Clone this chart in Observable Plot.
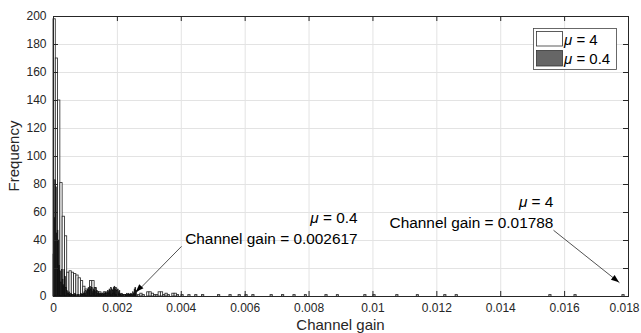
<!DOCTYPE html>
<html><head><meta charset="utf-8">
<script src="https://cdn.jsdelivr.net/npm/d3@7"></script>
<script src="https://cdn.jsdelivr.net/npm/@observablehq/plot@0.6"></script>
<style>body{margin:0;background:#fff}#chart{width:641px;height:333px}</style>
</head><body><div id="chart"></div>
<script>
// ---- data ----
const mu4MaxGain = 0.01788;
const mu4BinCount = 250;
const mu4Counts = [
  198,170,140,81,57,43,17,18,17,16,
  15,13,11,7,5,4,11,11,6,3,
  3,2,3,2,2,1,2,1,1,0,
  0,1,0,1,0,1,0,1,2,1,
  0,3,3,2,1,1,3,3,1,2,
  1,0,2,2,1,0,1,0,0,1
];
const mu4SparseBins = [62,65,72,77,81,84,87,95,100,105,110,119,124,136,140,150,159,171,176,217,228,249];
const mu04MaxGain = 0.002617;
const mu04BinCount = 100;
const mu04Counts = [
  30,56,83,78,45,47,40,22,18,10,
  19,12,8,19,14,6,4,3,2,3,
  1,2,1,1,0,1,2,1,0,1,
  1,0,1,2,1,1,2,3,2,4,
  3,5,6,4,7,5,6,3,5,4,
  6,3,4,2,3,2,1,2,1,2,
  1,2,3,2,3,4,3,5,4,6,
  5,4,6,7,5,6,4,5,3,4,
  2,1,2,1,1,0,1,1,2,1,
  2,1,1,2,1,3,2,5,6,4
];
const xTicks = [0,0.002,0.004,0.006,0.008,0.01,0.012,0.014,0.016,0.018];
const xTickLabels = ["0","0.002","0.004","0.006","0.008","0.01","0.012","0.014","0.016","0.018"];
const yTicks = [0,20,40,60,80,100,120,140,160,180,200];
const seriesNames = ["μ = 4","μ = 0.4"];
const xLabel = "Channel gain";
const yLabel = "Frequency";
const annotations = [
  {x: 0.00952, y: 56, text: "μ = 0.4"},
  {x: 0.00952, y: 41.3, text: "Channel gain = 0.002617"},
  {x: 0.01565, y: 67.4, text: "μ = 4"},
  {x: 0.01565, y: 52.5, text: "Channel gain = 0.01788"}
];
const arrows = [
  {x1: 0.004007, y1: 35.8, x2: 0.00259, y2: 2.9},
  {x1: 0.015653, y1: 47.3, x2: 0.017719, y2: 9.8}
];

// ---- build tables ----
const w4 = mu4MaxGain / mu4BinCount;
const counts4 = new Array(mu4BinCount).fill(0);
mu4Counts.forEach((c, i) => counts4[i] = c);
mu4SparseBins.forEach(i => counts4[i] = 1);
const bars4 = counts4.map((c, i) => ({x1: i * w4, x2: (i + 1) * w4, c})).filter(d => d.c > 0);
const w04 = mu04MaxGain / mu04BinCount;
const bars04 = mu04Counts.map((c, i) => ({x1: i * w04, x2: (i + 1) * w04, c})).filter(d => d.c > 0);

const axisColor = "#262626";
const font = "'Liberation Sans', Arial, Helvetica, sans-serif";
const tx = 0.018 * 5 / 575, ty = 200 * 5 / 279;

const plot = Plot.plot({
  width: 641, height: 333,
  marginLeft: 53, marginRight: 13, marginTop: 16, marginBottom: 37,
  style: {fontSize: "12px", fontFamily: font, color: axisColor, background: "#fff"},
  x: {domain: [0, 0.018], ticks: xTicks, tickSize: 0, tickPadding: 7, label: null,
      tickFormat: d => xTickLabels[xTicks.findIndex(t => Math.abs(t - d) < 1e-9)]},
  y: {domain: [0, 200], ticks: yTicks, tickSize: 0, tickPadding: 7, label: null},
  marks: [
    Plot.ruleX(xTicks, {x: d => d, stroke: "#e3e3e3"}),
    Plot.ruleY(yTicks, {y: d => d, stroke: "#e3e3e3"}),
    Plot.rect(bars4, {x1: "x1", x2: "x2", y1: 0, y2: "c", fill: "white", stroke: "#222", strokeWidth: 0.8}),
    Plot.rect(bars04, {x1: "x1", x2: "x2", y1: 0, y2: "c", fill: "#333", stroke: "black", strokeWidth: 0.5}),
    Plot.frame({stroke: axisColor}),
    Plot.ruleX(xTicks, {x: d => d, y1: 0, y2: ty, stroke: axisColor}),
    Plot.ruleX(xTicks, {x: d => d, y1: 200, y2: 200 - ty, stroke: axisColor}),
    Plot.ruleY(yTicks, {y: d => d, x1: 0, x2: tx, stroke: axisColor}),
    Plot.ruleY(yTicks, {y: d => d, x1: 0.018, x2: 0.018 - tx, stroke: axisColor}),
    Plot.link(arrows, {x1: "x1", y1: "y1", x2: "x2", y2: "y2", stroke: axisColor, strokeWidth: 0.8}),
    Plot.text(annotations, {x: "x", y: "y", text: "text", textAnchor: "end", fontSize: 15.4, fill: "black"})
  ]
});

const svg = d3.select(plot);
const sx = plot.scale("x"), sy = plot.scale("y");
// filled arrowheads
arrows.forEach(a => {
  const X1 = sx.apply(a.x1), Y1 = sy.apply(a.y1), X2 = sx.apply(a.x2), Y2 = sy.apply(a.y2);
  const ang = Math.atan2(Y2 - Y1, X2 - X1), L = 8, H = 3;
  const bx = X2 - L * Math.cos(ang), by = Y2 - L * Math.sin(ang);
  const px = -Math.sin(ang) * H, py = Math.cos(ang) * H;
  svg.append("path").attr("d", `M${X2},${Y2}L${bx + px},${by + py}L${bx - px},${by - py}Z`).attr("fill", "black");
});
// last x tick label nudged inside like the reference
svg.selectAll("text").filter(function() { return this.textContent === "0.018"; }).attr("dx", -4);
// axis labels
svg.append("text").attr("x", (53 + 628) / 2).attr("y", 330).attr("text-anchor", "middle")
  .attr("font-size", 15).attr("fill", axisColor).attr("font-family", font).text(xLabel);
svg.append("text").attr("transform", "translate(19,156) rotate(-90)").attr("text-anchor", "middle")
  .attr("font-size", 15).attr("fill", axisColor).attr("font-family", font).text(yLabel);
// legend
const lg = svg.append("g").attr("font-family", font).attr("font-size", 15).attr("text-anchor", "start");
lg.append("rect").attr("x", 533.5).attr("y", 28.5).attr("width", 83).attr("height", 41).attr("fill", "white").attr("stroke", "#444").attr("stroke-width", 0.8);
const patchFill = ["white", "#666"];
seriesNames.forEach((name, i) => {
  const y0 = i === 0 ? 31.5 : 50.5;
  lg.append("rect").attr("x", 536.5).attr("y", y0).attr("width", 26).attr("height", i === 0 ? 14.5 : 15.5)
    .attr("fill", patchFill[i]).attr("stroke", "#333").attr("stroke-width", 0.8);
  lg.append("text").attr("x", 564).attr("y", y0 + 13).attr("fill", "black").attr("text-anchor", "start").text(name);
});
// italic mu
svg.selectAll("text").each(function() {
  const t = this.textContent;
  if (t.startsWith("μ")) {
    this.textContent = "";
    d3.select(this).append("tspan").attr("font-style", "italic").text("μ");
    d3.select(this).append("tspan").text(t.slice(1));
  }
});
document.getElementById("chart").appendChild(plot);
</script></body></html>
